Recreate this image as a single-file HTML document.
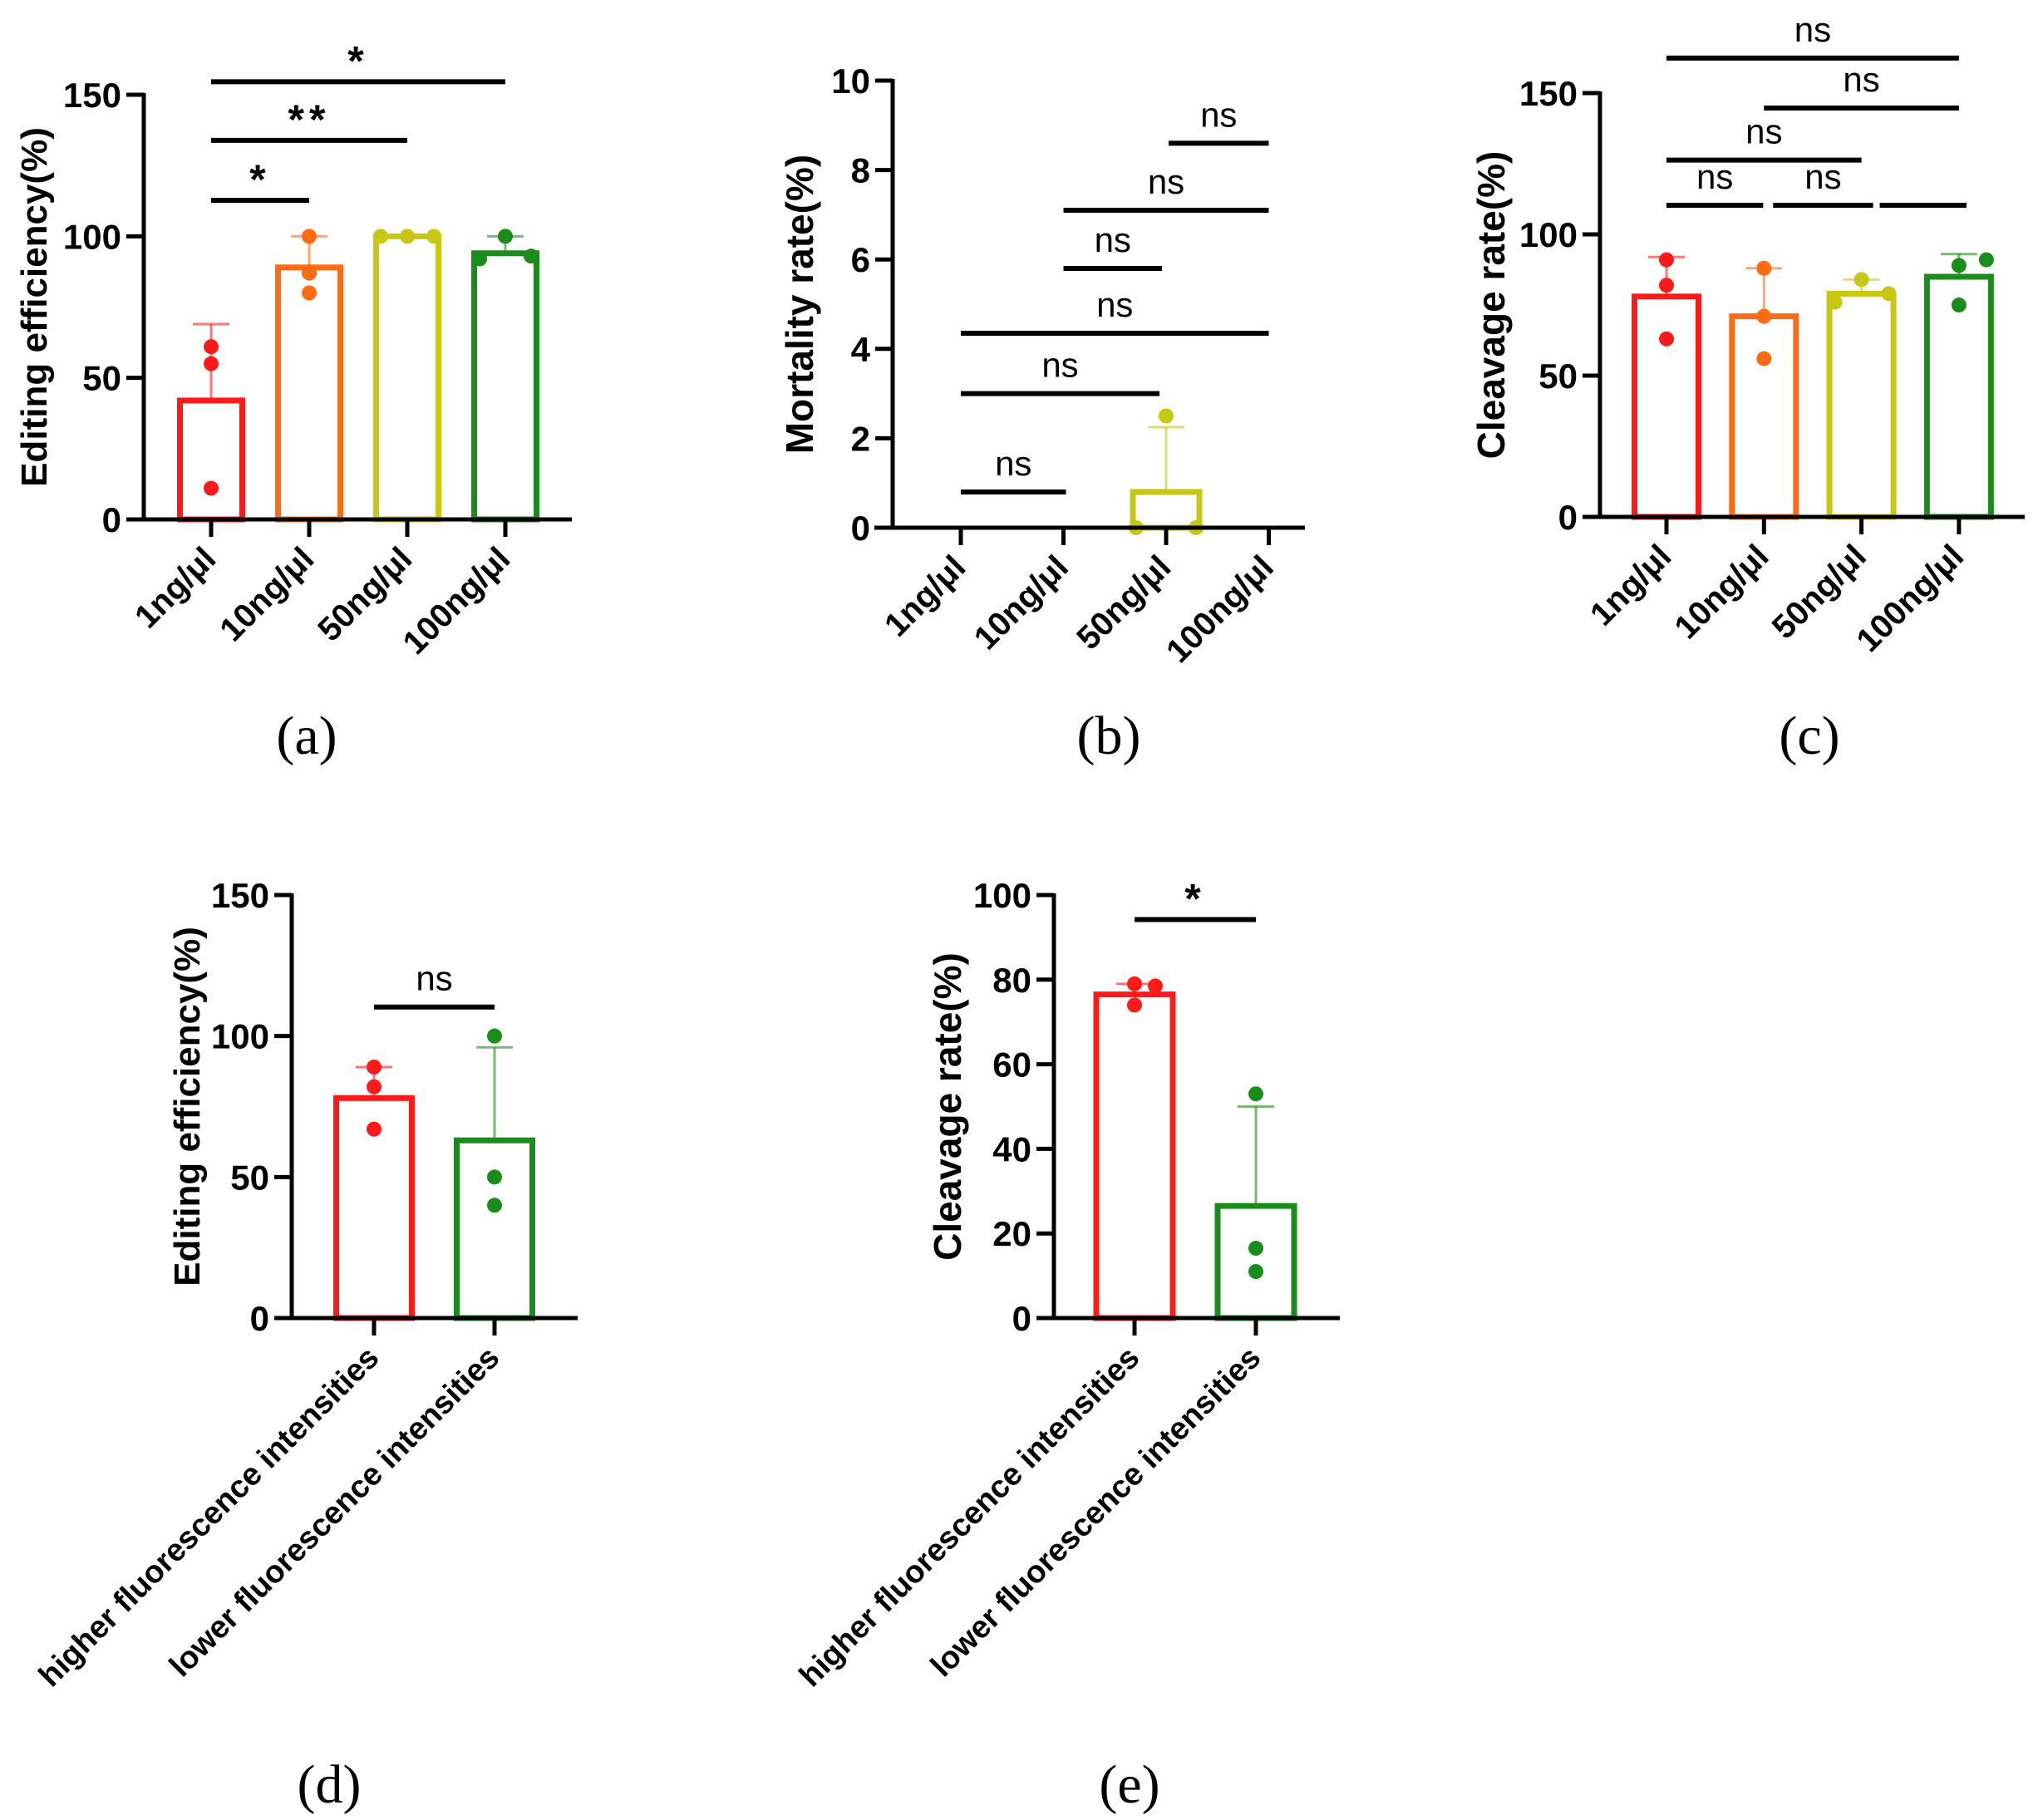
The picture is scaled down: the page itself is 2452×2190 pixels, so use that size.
<!DOCTYPE html>
<html><head><meta charset="utf-8">
<style>
html,body{margin:0;padding:0;background:#fff;}
svg{display:block;}
</style></head>
<body>
<svg id="fig" width="2452" height="2190" viewBox="0 0 2452 2190" xmlns="http://www.w3.org/2000/svg"></svg>
<script>
// ---- data ----
const catsDose = ["1ng/μl","10ng/μl","50ng/μl","100ng/μl"];
const catsFluor = ["higher fluorescence intensities","lower fluorescence intensities"];
const colorsDose = ["#ff1a1a","#ff6a13","#c8c814","#1a8c1a"];
const colorsFluor = ["#ff1a1a","#1a8c1a"];

const aMeans = [42, 89, 100, 94];
const aErr = [69, 100, 100, 100];
const aPoints = [[61,55,11],[100,87,80],[100,100,100],[92,100,93]];
const aJitter = [[0,0,0],[0,0,0],[-32,0,32],[-31,0,31]];
const aTicks = [0,50,100,150];
const aSigLevel = [154.6, 133.9, 112.7];
const aSigFrom = [0,0,0];
const aSigTo = [3,2,1];
const aSigText = ["*","**","*"];

const bMeans = [0, 0, 0.8, 0];
const bErr = [null, null, 2.25, null];
const bPoints = [[],[],[0,2.5,0],[]];
const bJitter = [[],[],[-36,0,36],[]];
const bTicks = [0,2,4,6,8,10];
const bSigLevel = [0.8, 3.0, 4.35, 5.8, 7.1, 8.6];
const bSigFrom = [0,0,0,1,1,2];
const bSigTo = [1,2,3,2,3,3];
const bSigText = ["ns","ns","ns","ns","ns","ns"];

const cMeans = [78, 71, 79, 85];
const cErr = [92, 88, 84, 93];
const cPoints = [[91,82,63],[88,71,56],[76,84,79],[89,91,75]];
const cJitter = [[0,0,0],[0,0,0],[-32,0,33],[0,33,0]];
const cTicks = [0,50,100,150];
const cSigLevel = [162.4, 144.7, 126.3, 110.3, 110.3, 110.3];
const cSigFrom = [0,1,0,0,1,2];
const cSigTo = [3,3,2,1,2,3];
const cSigText = ["ns","ns","ns","ns","ns",""];

const dMeans = [78, 63];
const dErr = [89, 96];
const dPoints = [[89,82,67],[100,50,40]];
const dJitter = [[0,0,0],[0,0,0]];
const dTicks = [0,50,100,150];
const dSigLevel = [110.3];
const dSigFrom = [0];
const dSigTo = [1];
const dSigText = ["ns"];

const eMeans = [76.5, 26.5];
const eErr = [79, 50];
const ePoints = [[79,78.5,74],[53,16.5,11]];
const eJitter = [[0,25,0],[0,0,0]];
const eTicks = [0,20,40,60,80,100];
const eSigLevel = [94.2];
const eSigFrom = [0];
const eSigTo = [1];
const eSigText = ["*"];

// ---- drawing ----
const svg = document.getElementById('fig');
const NS = 'http://www.w3.org/2000/svg';
function mk(tag, attrs, parent){
  const el = document.createElementNS(NS, tag);
  for (const k in attrs) el.setAttribute(k, attrs[k]);
  (parent||svg).appendChild(el);
  return el;
}

function panel(cfg){
  const g = mk('g', {});
  
  
  const y = v => cfg.y0 - (v - cfg.ymin) / (cfg.ymax - cfg.ymin) * (cfg.y0 - cfg.yTop);
  const x = i => cfg.tickX0 + i * cfg.tickStep;
  cfg.cats.forEach((c, i) => {
    const col = cfg.colors[i];
    const m = cfg.means[i];
    if (m > 0) {
      const bar = mk('rect', {x: x(i) - cfg.barW/2, y: y(m), width: cfg.barW, height: cfg.y0 - y(m), fill: 'none', stroke: col, 'stroke-width': 7}, g);
      
      
    }
    if (cfg.err[i] != null) {
      const eb = mk('g', {stroke: col, 'stroke-opacity': 0.6, 'stroke-width': 3}, g);
      
      
      mk('line', {x1: x(i), x2: x(i), y1: y(m), y2: y(cfg.err[i])}, eb);
      mk('line', {x1: x(i) - 22, x2: x(i) + 22, y1: y(cfg.err[i]), y2: y(cfg.err[i])}, eb);
    }
    cfg.points[i].forEach((p, j) => {
      const pt = mk('circle', {cx: x(i) + cfg.jitter[i][j], cy: y(p), r: 9, fill: col}, g);
      
      
    });
  });
  const ax = mk('g', {stroke: '#000', 'stroke-width': 5}, g);
  
  
  mk('line', {x1: cfg.axisX, x2: cfg.axisX, y1: y(cfg.ymax) - 2, y2: cfg.y0}, ax);
  mk('line', {x1: cfg.xStart, x2: cfg.xEnd, y1: cfg.y0, y2: cfg.y0}, ax);
  cfg.ticks.forEach(t => {
    mk('line', {x1: cfg.axisX - 21, x2: cfg.axisX, y1: y(t), y2: y(t)}, ax);
    const tl = mk('text', {x: cfg.axisX - 27, y: y(t) + 15, 'text-anchor': 'end', 'font-family': 'Liberation Sans, sans-serif', 'font-weight': 'bold', 'font-size': 42}, g);
    tl.textContent = t;
    
    
  });
  cfg.cats.forEach((c, i) => {
    mk('line', {x1: x(i), x2: x(i), y1: cfg.y0, y2: cfg.y0 + 21}, ax);
    const lx = x(i) + 8, ly = cfg.y0 + 50;
    const tl = mk('text', {x: lx, y: ly, 'text-anchor': 'end', transform: `rotate(-45 ${lx} ${ly})`, 'font-family': 'Liberation Sans, sans-serif', 'font-weight': 'bold', 'font-size': cfg.xFont}, g);
    tl.textContent = c;
    
    
  });
  const tx = cfg.titleX, ty = (cfg.y0 + y(cfg.ymax)) / 2;
  const tt = mk('text', {x: tx, y: ty, 'text-anchor': 'middle', transform: `rotate(-90 ${tx} ${ty})`, 'font-family': 'Liberation Sans, sans-serif', 'font-weight': 'bold', 'font-size': cfg.titleFont}, g);
  tt.textContent = cfg.title;
  
  
  cfg.sigLevel.forEach((lv, k) => {
    const x1 = x(cfg.sigFrom[k]) + (cfg.sigInset ? cfg.sigInset[k][0] : 0);
    const x2 = x(cfg.sigTo[k]) + (cfg.sigInset ? cfg.sigInset[k][1] : 0);
    const sl = mk('line', {x1: x1, x2: x2, y1: y(lv), y2: y(lv), stroke: '#000', 'stroke-width': 6}, g);
    
    
    if (cfg.sigText[k]) {
      const star = cfg.sigText[k].indexOf('*') >= 0;
      const st = mk('text', {x: (x1 + x2) / 2, y: y(lv) - (star ? 8 : 20), 'text-anchor': 'middle', 'font-family': 'Liberation Sans, sans-serif', 'font-weight': star ? 'bold' : 'normal', 'font-size': star ? 50 : 42, 'letter-spacing': star ? 6 : 0}, g);
      st.textContent = cfg.sigText[k];
      
      
    }
  });
  const pl = mk('text', {x: cfg.labelX, y: cfg.labelY, 'text-anchor': 'middle', 'font-family': 'Liberation Serif, serif', 'font-size': 66}, g);
  pl.textContent = cfg.label;
  
  
}

panel({name:'panel-a', cats:catsDose, colors:colorsDose, means:aMeans, err:aErr, points:aPoints, jitter:aJitter,
  ticks:aTicks, ymin:0, ymax:150, y0:625, yTop:114, axisX:173, xStart:152, xEnd:688, tickX0:254, tickStep:118,
  barW:75, xFont:40, title:'Editing efficiency(%)', titleFont:44, titleX:56, sigLevel:aSigLevel, sigFrom:aSigFrom, sigTo:aSigTo, sigText:aSigText,
  label:'(a)', labelX:369, labelY:907});
panel({name:'panel-b', cats:catsDose, colors:colorsDose, means:bMeans, err:bErr, points:bPoints, jitter:bJitter,
  ticks:bTicks, ymin:0, ymax:10, y0:635, yTop:97, axisX:1074, xStart:1052, xEnd:1570, tickX0:1156, tickStep:123.5,
  barW:80, xFont:40, title:'Mortality rate(%)', titleFont:46, titleX:978, sigLevel:bSigLevel, sigFrom:bSigFrom, sigTo:bSigTo, sigText:bSigText,
  sigInset:[[0,3],[0,-8],[0,0],[0,-5],[0,0],[3,0]],
  label:'(b)', labelX:1334, labelY:907});
panel({name:'panel-c', cats:catsDose, colors:colorsDose, means:cMeans, err:cErr, points:cPoints, jitter:cJitter,
  ticks:cTicks, ymin:0, ymax:150, y0:622, yTop:112, axisX:1925, xStart:1904, xEnd:2436, tickX0:2005, tickStep:117.3,
  barW:77, xFont:40, title:'Cleavage rate(%)', titleFont:46, titleX:1810, sigLevel:cSigLevel, sigFrom:cSigFrom, sigTo:cSigTo, sigText:cSigText,
  sigInset:[[0,0],[0,0],[0,0],[0,-1],[11,14],[22,9]],
  label:'(c)', labelX:2177, labelY:907});
panel({name:'panel-d', cats:catsFluor, colors:colorsFluor, means:dMeans, err:dErr, points:dPoints, jitter:dJitter,
  ticks:dTicks, ymin:0, ymax:150, y0:1586, yTop:1077, axisX:351, xStart:332, xEnd:695, tickX0:450, tickStep:145,
  barW:91, xFont:38, title:'Editing efficiency(%)', titleFont:44, titleX:240, sigLevel:dSigLevel, sigFrom:dSigFrom, sigTo:dSigTo, sigText:dSigText,
  label:'(d)', labelX:396, labelY:2169});
panel({name:'panel-e', cats:catsFluor, colors:colorsFluor, means:eMeans, err:eErr, points:ePoints, jitter:eJitter,
  ticks:eTicks, ymin:0, ymax:100, y0:1586, yTop:1077, axisX:1268, xStart:1248, xEnd:1612, tickX0:1365, tickStep:146,
  barW:92, xFont:38, title:'Cleavage rate(%)', titleFont:46, titleX:1156, sigLevel:eSigLevel, sigFrom:eSigFrom, sigTo:eSigTo, sigText:eSigText,
  label:'(e)', labelX:1359, labelY:2169});
</script>
</body></html>
